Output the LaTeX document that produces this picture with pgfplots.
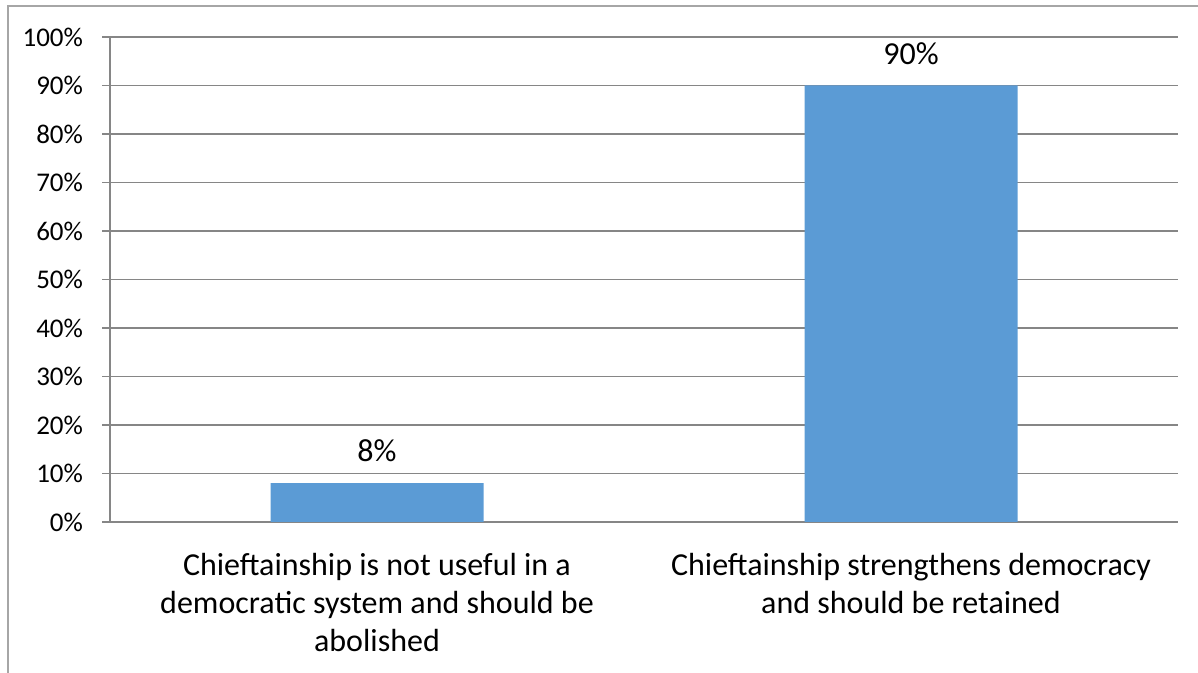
\documentclass[border=0pt]{standalone}
\usepackage{pgfplots}
\pgfplotsset{compat=1.18}
\usepackage{fontspec}
\setmainfont{Carlito}
\definecolor{barblue}{HTML}{5B9BD5}
\definecolor{gridgray}{HTML}{868686}
\definecolor{framegray}{HTML}{A6A6A6}
\begin{document}
\begin{tikzpicture}
\useasboundingbox (0,0) rectangle (599pt,336.5pt);
\draw[framegray, line width=0.6pt] (4pt,-2pt) -- (4pt,333.5pt) -- (601pt,333.5pt);
\begin{axis}[
  at={(55pt,75.5pt)}, anchor=south west,
  scale only axis, width=534pt, height=242.5pt,
  xmin=-0.5, xmax=1.5, ymin=0, ymax=100,
  axis x line*=bottom, axis y line*=left,
  axis line style={gridgray, line width=0.6pt, -},
  ytick={0,10,...,100},
  yticklabel={\pgfmathprintnumber{\tick}\%},
  yticklabel style={font=\fontsize{13.5}{15}\selectfont, xshift=-6pt},
  /pgf/number format/assume math mode=true,
  ymajorgrids, major grid style={gridgray, line width=0.6pt},
  major tick length=4pt,
  tick style={gridgray, line width=0.6pt},
  tick align=outside,
  xtick={0,1},
  xtick style={draw=none},
  xticklabels={{Chieftainship is not useful in a\\democratic system and should be\\abolished},{Chieftainship strengthens democracy\\and should be retained}},
  xticklabel style={align=center, font=\fontsize{16}{19}\selectfont, yshift=-8pt},
  extra x ticks={-0.5,0.5,1.5},
  extra x tick labels={},
  extra x tick style={major tick length=5pt, tick style={gridgray, line width=0.6pt}, grid=none},
  ybar, bar width=106.5pt,
  nodes near coords={\pgfmathprintnumber{\pgfplotspointmeta}\%},
  nodes near coords style={font=\fontsize{16}{19}\selectfont, text=black, yshift=7pt},
]
\addplot[fill=barblue, draw=none] coordinates {(0,8) (1,90)};
\end{axis}
\end{tikzpicture}
\end{document}
